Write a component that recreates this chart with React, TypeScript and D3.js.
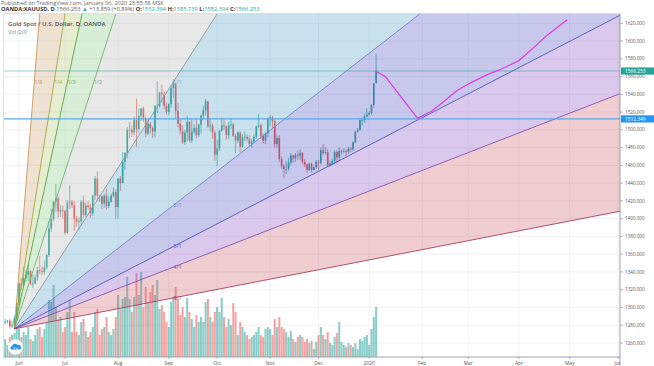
import React, { useEffect, useRef } from "react";
import * as d3 from "d3";

const firstBarDate = new Date(2019, 4, 24);

// one row per weekday, May 24 2019 .. Jan 6 2020: [open, high, low, close]
const candles: [number, number, number, number][] = [
  // May
  [1283, 1287, 1281, 1284], [1284, 1286, 1282, 1285], [1285, 1287, 1276, 1279],
  [1279, 1285, 1277, 1280], [1280, 1291, 1276, 1288], [1288, 1306, 1287, 1305],
  // Jun
  [1305, 1328, 1303, 1327], [1327, 1333, 1320, 1325], [1325, 1346, 1322, 1333],
  [1333, 1342, 1329, 1337], [1337, 1348, 1330, 1341], [1341, 1342, 1325, 1327],
  [1327, 1337, 1322, 1327], [1327, 1337, 1326, 1334], [1334, 1346, 1330, 1342],
  [1342, 1358, 1338, 1341], [1341, 1346, 1336, 1340], [1340, 1353, 1337, 1345],
  [1345, 1360, 1343, 1359], [1359, 1397, 1357, 1389], [1389, 1411, 1385, 1400],
  [1400, 1420, 1397, 1419], [1419, 1439, 1408, 1423], [1423, 1425, 1401, 1408],
  [1408, 1415, 1402, 1410], [1410, 1415, 1400, 1409],
  // Jul
  [1409, 1410, 1382, 1384], [1384, 1421, 1383, 1418], [1418, 1438, 1411, 1419],
  [1419, 1421, 1412, 1415], [1415, 1420, 1386, 1400], [1400, 1403, 1391, 1396],
  [1396, 1402, 1388, 1397], [1397, 1421, 1392, 1419], [1419, 1426, 1401, 1404],
  [1404, 1418, 1402, 1415], [1415, 1420, 1410, 1413], [1413, 1417, 1401, 1406],
  [1406, 1427, 1403, 1426], [1426, 1448, 1421, 1445], [1445, 1453, 1420, 1426],
  [1426, 1427, 1419, 1425], [1425, 1426, 1411, 1417], [1417, 1428, 1412, 1426],
  [1426, 1433, 1410, 1414], [1414, 1425, 1412, 1419], [1419, 1428, 1418, 1426],
  [1426, 1435, 1424, 1430], [1430, 1433, 1400, 1413],
  // Aug
  [1413, 1446, 1400, 1445], [1445, 1448, 1431, 1440], [1440, 1475, 1440, 1464],
  [1464, 1475, 1455, 1474], [1474, 1503, 1468, 1500], [1500, 1509, 1491, 1500],
  [1500, 1505, 1492, 1497], [1497, 1515, 1494, 1511], [1511, 1535, 1481, 1501],
  [1501, 1524, 1497, 1516], [1516, 1525, 1510, 1524], [1524, 1526, 1509, 1513],
  [1513, 1515, 1492, 1496], [1496, 1512, 1494, 1507], [1507, 1509, 1496, 1502],
  [1502, 1504, 1491, 1498], [1498, 1528, 1492, 1527], [1527, 1555, 1519, 1527],
  [1527, 1543, 1525, 1542], [1542, 1551, 1531, 1540], [1540, 1543, 1523, 1527],
  [1527, 1531, 1517, 1520],
  // Sep
  [1520, 1530, 1517, 1529], [1529, 1550, 1525, 1547], [1547, 1557, 1536, 1552],
  [1552, 1553, 1513, 1521], [1521, 1530, 1503, 1507], [1507, 1513, 1495, 1499],
  [1499, 1505, 1484, 1486], [1486, 1500, 1483, 1497], [1497, 1516, 1487, 1509],
  [1509, 1510, 1486, 1488], [1488, 1512, 1485, 1498], [1498, 1506, 1495, 1502],
  [1502, 1513, 1490, 1494], [1494, 1507, 1492, 1506], [1506, 1517, 1496, 1516],
  [1516, 1527, 1511, 1522], [1522, 1535, 1516, 1532], [1532, 1533, 1502, 1504],
  [1504, 1513, 1498, 1505], [1505, 1507, 1490, 1497], [1497, 1499, 1465, 1472],
  // Oct
  [1472, 1489, 1459, 1479], [1479, 1500, 1476, 1499], [1499, 1514, 1498, 1505],
  [1505, 1512, 1500, 1504], [1504, 1505, 1489, 1494], [1494, 1509, 1490, 1505],
  [1505, 1513, 1501, 1506], [1506, 1508, 1492, 1493], [1493, 1496, 1474, 1488],
  [1488, 1498, 1485, 1497], [1497, 1498, 1475, 1481], [1481, 1495, 1480, 1492],
  [1492, 1498, 1487, 1492], [1492, 1495, 1487, 1490], [1490, 1494, 1481, 1484],
  [1484, 1490, 1480, 1487], [1487, 1495, 1485, 1492], [1492, 1505, 1490, 1504],
  [1504, 1518, 1502, 1505], [1505, 1507, 1490, 1493], [1493, 1496, 1485, 1488],
  [1488, 1498, 1484, 1496], [1496, 1514, 1492, 1513],
  // Nov
  [1513, 1517, 1504, 1514], [1514, 1516, 1502, 1510], [1510, 1511, 1480, 1484],
  [1484, 1494, 1480, 1491], [1491, 1494, 1464, 1467], [1467, 1470, 1456, 1459],
  [1459, 1461, 1446, 1456], [1456, 1465, 1450, 1456], [1456, 1468, 1454, 1463],
  [1463, 1474, 1460, 1471], [1471, 1472, 1463, 1468], [1468, 1474, 1464, 1472],
  [1472, 1476, 1466, 1471], [1471, 1478, 1466, 1474], [1474, 1475, 1461, 1464],
  [1464, 1467, 1458, 1461], [1461, 1462, 1451, 1455], [1455, 1463, 1454, 1462],
  [1462, 1463, 1452, 1455], [1455, 1459, 1454, 1458], [1458, 1466, 1456, 1464],
  // Dec
  [1464, 1466, 1455, 1463], [1463, 1480, 1461, 1477], [1477, 1484, 1472, 1474],
  [1474, 1481, 1472, 1475], [1475, 1478, 1459, 1460], [1460, 1465, 1458, 1462],
  [1462, 1467, 1460, 1465], [1465, 1477, 1461, 1475], [1475, 1477, 1462, 1469],
  [1469, 1480, 1465, 1476], [1476, 1478, 1472, 1476], [1476, 1479, 1474, 1476],
  [1476, 1478, 1471, 1475], [1475, 1481, 1473, 1479], [1479, 1481, 1475, 1478],
  [1478, 1487, 1476, 1486], [1486, 1499, 1485, 1498], [1498, 1502, 1497, 1500],
  [1500, 1512, 1499, 1511], [1511, 1514, 1505, 1511], [1511, 1518, 1508, 1515],
  [1515, 1524, 1514, 1517],
  // Jan 2020
  [1517, 1521, 1516, 1519], [1519, 1529, 1517, 1528], [1528, 1553, 1525, 1552],
  [1552.394, 1585.739, 1552.394, 1566.253],
];

const volumes: number[] = [
  18, 12, 20, 22, 24, 30,
  28, 20, 25, 22, 30, 18, 16, 22, 28, 30, 20, 28, 35, 57, 55, 72, 50, 37, 40, 25,
  30, 45, 57, 25, 45, 25, 22, 35, 38, 26, 20, 25, 30, 45, 48, 22, 28, 30, 40, 25, 22, 28, 40,
  62, 48, 58, 60, 80, 58, 45, 60, 84, 62, 85, 50, 70, 55, 65, 72, 62, 77, 48, 52, 45, 35,
  30, 55, 60, 70, 58, 42, 50, 40, 59, 45, 38, 30, 42, 35, 40, 35, 55, 58, 40, 35, 45,
  50, 45, 59, 40, 30, 38, 32, 54, 45, 22, 35, 30, 25, 22, 18, 20, 22, 25, 30, 22, 20, 28, 30,
  28, 22, 38, 30, 40, 30, 28, 25, 20, 26, 18, 15, 20, 22, 20, 15, 18, 14, 16, 8, 15,
  22, 30, 22, 18, 25, 14, 12, 20, 24, 35, 15, 12, 10, 14, 12, 10, 14, 8, 18, 16, 20, 22,
  12, 28, 40, 50,
];

const priceTicks = [1260, 1280, 1300, 1320, 1340, 1360, 1380, 1400, 1420, 1440, 1460, 1480, 1500, 1520, 1540, 1560, 1580, 1600, 1620];
const monthLabels = ["Jun", "Jul", "Aug", "Sep", "Oct", "Nov", "Dec", "2020", "Feb", "Mar", "Apr", "May", "Jun"];
const monthStarts = [
  new Date(2019, 5, 1), new Date(2019, 6, 1), new Date(2019, 7, 1), new Date(2019, 8, 1),
  new Date(2019, 9, 1), new Date(2019, 10, 1), new Date(2019, 11, 1), new Date(2020, 0, 1),
  new Date(2020, 1, 1), new Date(2020, 2, 1), new Date(2020, 3, 1), new Date(2020, 4, 1),
  new Date(2020, 5, 1),
];

const fanLevels = ["1/8", "1/4", "1/3", "1/2", "1/1", "2/1", "3/1", "4/1", "8/1"];
const fanAnchorDates = [new Date(2019, 4, 30), new Date(2019, 8, 4)];
const fanAnchorPrices = [1276, 1554];

const lastPrice = 1566.253;
const levelPrice = 1512.349;

const projectionDates = [
  new Date(2020, 0, 6), new Date(2020, 0, 10), new Date(2020, 0, 30), new Date(2020, 1, 7),
  new Date(2020, 1, 14), new Date(2020, 1, 24), new Date(2020, 2, 3), new Date(2020, 2, 12),
  new Date(2020, 2, 20), new Date(2020, 3, 1), new Date(2020, 3, 10), new Date(2020, 3, 17),
  new Date(2020, 3, 24), new Date(2020, 3, 30),
];
const projectionPrices = [1566, 1560, 1513, 1521, 1531, 1544, 1553, 1562, 1568, 1578, 1594, 1606, 1616, 1624];

const fanLineColors = ["#cf935a", "#a3a73f", "#55a843", "#72b372", "#8499ab", "#7083c8", "#5053bb", "#8650ae", "#a93e63"];
const fanFillColors = [
  "rgba(200,150,95,0.28)", "rgba(172,192,90,0.28)", "rgba(120,195,110,0.28)", "rgba(172,172,172,0.28)",
  "rgba(75,155,192,0.3)", "rgba(68,72,192,0.3)", "rgba(132,75,192,0.3)", "rgba(202,88,98,0.3)",
];

const UP = "#26a69a";
const DOWN = "#ef5350";

const App = () => {
  const ref = useRef<SVGSVGElement>(null);

  useEffect(() => {
    const svg = d3.select(ref.current);
    svg.selectAll("*").remove();

    const left = 3.5, top = 13.5, right = 620, bottom = 357;

    const tradingDays = d3
      .timeDay.range(firstBarDate, new Date(2020, 6, 1))
      .filter((d) => d.getDay() !== 0 && d.getDay() !== 6);
    const dayIndex = (d: Date) => d3.bisectLeft(tradingDays, d);

    const x = d3
      .scaleLinear()
      .domain([dayIndex(new Date(2019, 5, 3)), dayIndex(new Date(2020, 5, 1))])
      .range([19, 618]);
    const y = d3.scaleLinear().domain([1260, 1620]).range([343, 23.3]);
    const vol = d3.scaleLinear().domain([0, 100]).range([bottom, bottom - 100]);

    const defs = svg.append("defs");
    defs
      .append("clipPath")
      .attr("id", "plotClip")
      .append("rect")
      .attr("x", left)
      .attr("y", top)
      .attr("width", right - left)
      .attr("height", bottom - top);
    defs
      .append("clipPath")
      .attr("id", "timeClip")
      .append("rect")
      .attr("x", 0)
      .attr("y", bottom)
      .attr("width", right)
      .attr("height", 366 - bottom);

    const plot = svg.append("g").attr("clip-path", "url(#plotClip)");

    // grid
    plot
      .selectAll("line.hgrid")
      .data(priceTicks)
      .enter()
      .append("line")
      .attr("x1", left)
      .attr("x2", right)
      .attr("y1", (d) => y(d))
      .attr("y2", (d) => y(d))
      .attr("stroke", "#eceff3")
      .attr("stroke-width", 0.8);
    const monthX = monthStarts.map((d) => x(dayIndex(d)));
    plot
      .selectAll("line.vgrid")
      .data(monthX)
      .enter()
      .append("line")
      .attr("x1", (d) => d)
      .attr("x2", (d) => d)
      .attr("y1", top)
      .attr("y2", bottom)
      .attr("stroke", "#eceff3")
      .attr("stroke-width", 0.8);

    // volume
    plot
      .selectAll("rect.vol")
      .data(volumes)
      .enter()
      .append("rect")
      .attr("x", (_d, i) => x(i) - 1)
      .attr("width", 2)
      .attr("y", (d) => vol(d))
      .attr("height", (d) => bottom - vol(d))
      .attr("fill", (_d, i) =>
        candles[i][3] >= candles[i][0] ? "rgba(38,166,154,0.55)" : "rgba(239,83,80,0.55)",
      );

    // candles
    const cg = plot.selectAll("g.candle").data(candles).enter().append("g");
    cg.append("line")
      .attr("x1", (_d, i) => x(i))
      .attr("x2", (_d, i) => x(i))
      .attr("y1", (d) => y(d[1]))
      .attr("y2", (d) => y(d[2]))
      .attr("stroke", (d) => (d[3] >= d[0] ? UP : DOWN))
      .attr("stroke-width", 0.7);
    cg.append("rect")
      .attr("x", (_d, i) => x(i) - 0.8)
      .attr("width", 1.6)
      .attr("y", (d) => y(Math.max(d[0], d[3])))
      .attr("height", (d) => Math.max(0.7, Math.abs(y(d[0]) - y(d[3]))))
      .attr("fill", (d) => (d[3] >= d[0] ? UP : DOWN));

    // gann fan
    const sx = x(dayIndex(fanAnchorDates[0]));
    const sy = y(fanAnchorPrices[0]);
    const ex = x(dayIndex(fanAnchorDates[1]));
    const ey = y(fanAnchorPrices[1]);
    const dx = ex - sx;
    const dy = ey - sy;
    const rays = fanLevels.map((lvl) => {
      const [a, b] = lvl.split("/").map(Number);
      const px = a <= b ? sx + (dx * a) / b : ex;
      const py = a <= b ? ey : sy + (dy * b) / a;
      return {
        lvl,
        px,
        py,
        fx: sx + (px - sx) * 30,
        fy: sy + (py - sy) * 30,
      };
    });
    const fan = plot.append("g");
    rays.slice(0, -1).forEach((r, i) => {
      const n = rays[i + 1];
      fan
        .append("path")
        .attr("d", `M${sx},${sy}L${r.fx},${r.fy}L${n.fx},${n.fy}Z`)
        .attr("fill", fanFillColors[i]);
    });
    rays.forEach((r, i) => {
      fan
        .append("line")
        .attr("x1", sx)
        .attr("y1", sy)
        .attr("x2", r.fx)
        .attr("y2", r.fy)
        .attr("stroke", fanLineColors[i])
        .attr("stroke-width", 0.9);
      fan
        .append("text")
        .attr("x", r.px)
        .attr("y", r.py + 1.8)
        .attr("fill", fanLineColors[i])
        .style("font-size", "5.4px")
        .text(r.lvl);
    });

    // horizontal lines
    plot
      .append("line")
      .attr("x1", left)
      .attr("x2", right)
      .attr("y1", y(lastPrice))
      .attr("y2", y(lastPrice))
      .attr("stroke", "rgba(38,166,154,0.5)")
      .attr("stroke-width", 1);
    plot
      .append("line")
      .attr("x1", left)
      .attr("x2", right)
      .attr("y1", y(levelPrice))
      .attr("y2", y(levelPrice))
      .attr("stroke", "#5aa9e6")
      .attr("stroke-width", 1.2);

    // projection path
    const proj = d3
      .line<number>()
      .x((_d, i) => x(dayIndex(projectionDates[i])))
      .y((d) => y(d));
    plot
      .append("path")
      .attr("d", proj(projectionPrices))
      .attr("fill", "none")
      .attr("stroke", "#e040e0")
      .attr("stroke-width", 1.3);

    // frame
    svg.append("line").attr("x1", left).attr("x2", right).attr("y1", top).attr("y2", top).attr("stroke", "#d6d9de").attr("stroke-width", 0.8);
    svg.append("line").attr("x1", left).attr("x2", left).attr("y1", top).attr("y2", bottom).attr("stroke", "#d6d9de").attr("stroke-width", 0.8);
    svg.append("line").attr("x1", left).attr("x2", right).attr("y1", bottom).attr("y2", bottom).attr("stroke", "#9598a1").attr("stroke-width", 0.9);
    svg.append("line").attr("x1", right).attr("x2", right).attr("y1", top).attr("y2", 366).attr("stroke", "#9598a1").attr("stroke-width", 0.9);

    // price axis
    const ax = svg.append("g");
    priceTicks.forEach((p) => {
      ax.append("line").attr("x1", right).attr("x2", right + 3).attr("y1", y(p)).attr("y2", y(p)).attr("stroke", "#9598a1").attr("stroke-width", 0.7);
      ax.append("text")
        .attr("x", 625)
        .attr("y", y(p) + 1.6)
        .attr("fill", "#555")
        .style("font-size", "4.6px")
        .text(d3.format(".3f")(p));
    });
    [
      { p: lastPrice, c: "#26a69a" },
      { p: levelPrice, c: "#2196f3" },
    ].forEach(({ p, c }) => {
      ax.append("rect").attr("x", 621).attr("y", y(p) - 3.6).attr("width", 33).attr("height", 7.2).attr("fill", c);
      ax.append("text")
        .attr("x", 625)
        .attr("y", y(p) + 1.7)
        .attr("fill", "#fff")
        .style("font-size", "4.8px")
        .text(d3.format(".3f")(p));
    });

    // time axis
    const tg = svg.append("g").attr("clip-path", "url(#timeClip)");
    monthLabels.forEach((m, i) => {
      tg.append("line").attr("x1", monthX[i]).attr("x2", monthX[i]).attr("y1", bottom).attr("y2", bottom + 2).attr("stroke", "#9598a1").attr("stroke-width", 0.7);
      tg.append("text")
        .attr("x", monthX[i])
        .attr("y", 364.5)
        .attr("text-anchor", "middle")
        .attr("fill", "#555")
        .style("font-size", "4.8px")
        .text(m);
    });

    // header
    svg.append("text").attr("x", 1).attr("y", 4.6).attr("fill", "#666").style("font-size", "5.6px")
      .text("Published on TradingView.com, January 06, 2020 23:55:58 MSK");
    const h2 = svg.append("text").attr("x", 1).attr("y", 11.1).style("font-size", "5.7px");
    const parts: [string, string, number][] = [
      ["OANDA:XAUUSD, D ", "#333", 700],
      ["1566.253 ", "#555", 400],
      ["\u25B2 ", UP, 400],
      ["+13.859 (+0.89%) ", "#555", 400],
      ["O:", "#333", 700],
      ["1552.394 ", UP, 400],
      ["H:", "#333", 700],
      ["1585.739 ", UP, 400],
      ["L:", "#333", 700],
      ["1552.394 ", UP, 400],
      ["C:", "#333", 700],
      ["1566.253", UP, 400],
    ];
    parts.forEach(([t, c, w]) => {
      h2.append("tspan").attr("fill", c).attr("font-weight", w).text(t);
    });

    svg.append("text").attr("x", 8).attr("y", 26.2).attr("fill", "#4f5560").attr("font-weight", 600).style("font-size", "6.1px")
      .text("Gold Spot / U.S. Dollar, D, OANDA");
    svg.append("text").attr("x", 8).attr("y", 34.4).attr("fill", "#888").style("font-size", "5.4px").text("Vol (20)");

    // logo
    const logo = svg.append("g");
    logo.append("circle").attr("cx", 15.5).attr("cy", 347).attr("r", 7.5).attr("fill", "#fff").attr("stroke", "#e3e5ea").attr("stroke-width", 0.6);
    logo.append("path")
      .attr("d", "M11.3,349.6 a2.1,2.1 0 0 1 1.1,-3.8 a2.8,2.8 0 0 1 5.1,-0.6 a2.1,2.1 0 0 1 2.1,4.4 Z")
      .attr("fill", "#2a8fe8");
    logo.append("path").attr("d", "M13.2,347.6 h2.4 M14.4,347.6 v1.8 M16.2,347.6 l0.8,1.8 l0.8,-1.8").attr("stroke", "#fff").attr("stroke-width", 0.5).attr("fill", "none");
  }, []);

  return (
    <svg
      ref={ref}
      width={654}
      height={366}
      style={{ position: "absolute", left: 0, top: 0, background: "#fff", fontFamily: "'Open Sans', sans-serif" }}
    />
  );
};

export default App;
